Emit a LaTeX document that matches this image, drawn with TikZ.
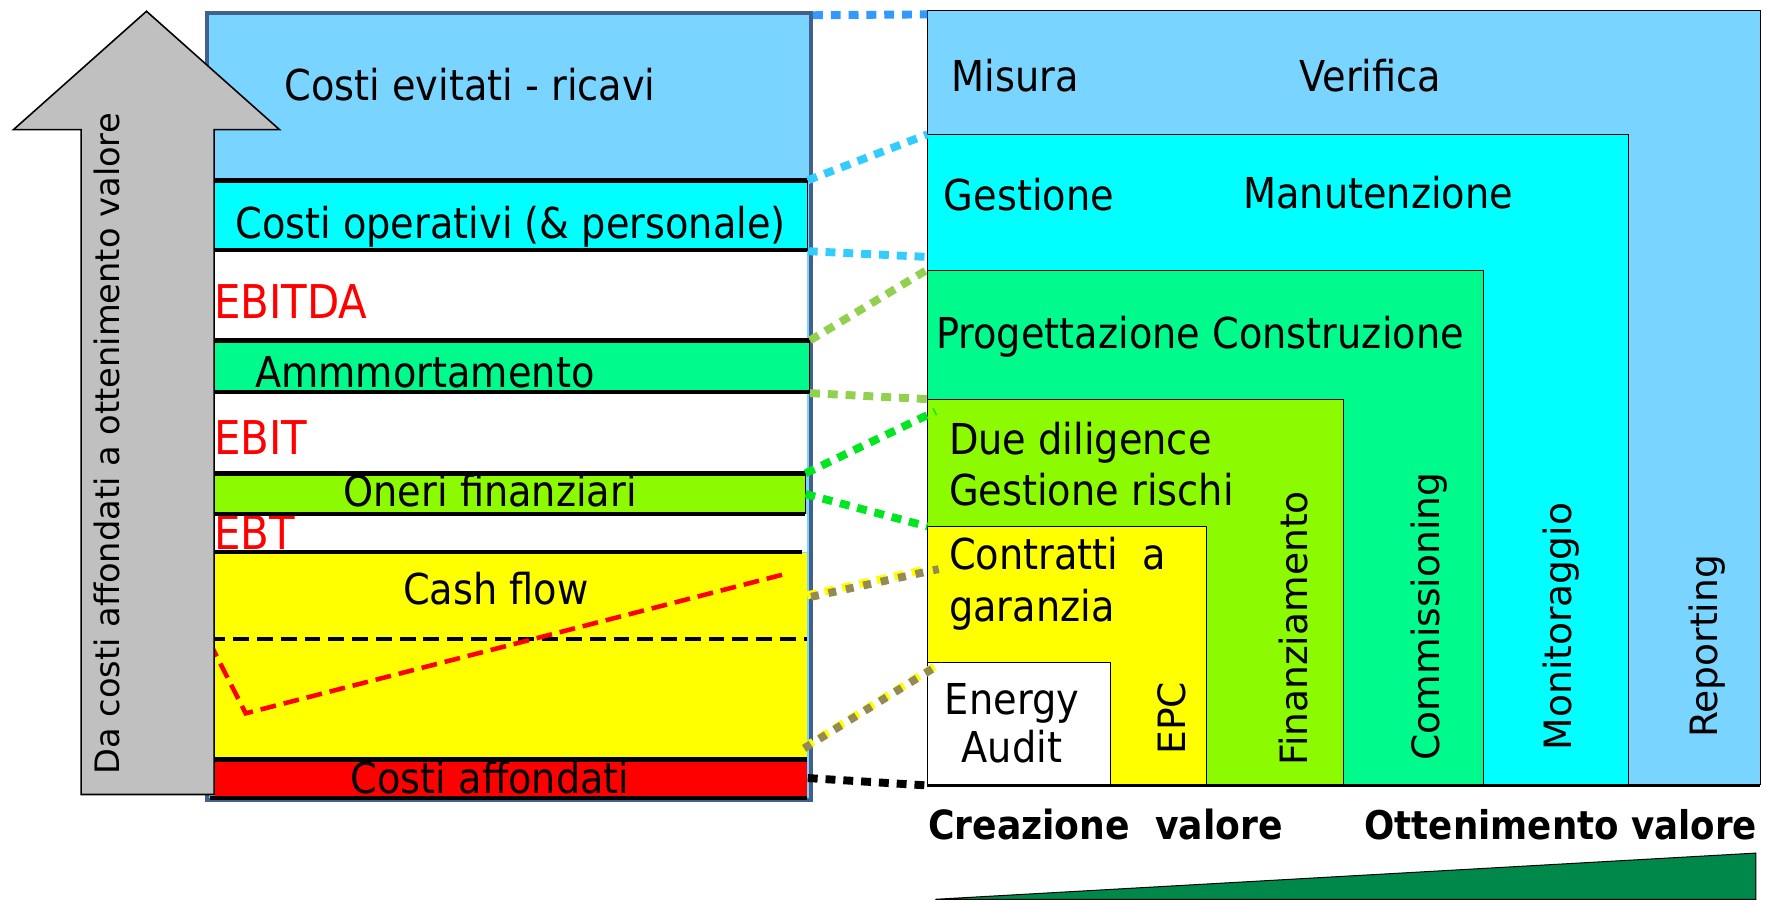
\documentclass[tikz,border=0pt]{standalone}
\usepackage{fontspec}
\setmainfont{DejaVu Sans Condensed}
\newfontfamily\widefont{DejaVu Sans}
\usepackage{tikz}
\usetikzlibrary{positioning}
\definecolor{ltblue}{HTML}{79D5FF}
\definecolor{aqua}{HTML}{00FFFF}
\definecolor{mint}{HTML}{00FA8C}
\definecolor{lime}{HTML}{8CFA00}
\definecolor{yel}{HTML}{FFFF00}
\definecolor{rosso}{HTML}{FF0000}
\definecolor{boxblue}{HTML}{41608C}
\definecolor{dblue}{HTML}{3399FF}
\definecolor{sky}{HTML}{33CCFF}
\definecolor{olivegreen}{HTML}{92D050}
\definecolor{brightgreen}{HTML}{00E620}
\definecolor{khaki}{HTML}{948A54}
\definecolor{dkgreen}{HTML}{00884A}
\definecolor{grigio}{HTML}{C0C0C0}
\tikzset{
 band/.style={draw=black, line width=0.5pt, inner sep=0pt, anchor=north west},
 box/.style={draw=black, line width=0.5pt, inner sep=0pt, anchor=south west},
 sep/.style={line width=2.3pt, black},
 conn/.style={line width=4pt, dash pattern=on 5pt off 4pt},
 lbl/.style={font=\fontsize{21.5}{24}\selectfont},
 red lbl/.style={font=\fontsize{23.5}{26}\selectfont, text=rosso, anchor=west, inner sep=0pt},
 vlbl/.style={font=\widefont\fontsize{19}{21}\selectfont, rotate=90, anchor=west, inner sep=0pt}
}
\begin{document}
\begin{tikzpicture}[x=0.02cm,y=-0.02cm]
\useasboundingbox (0,0) rectangle (1568,798);
% left block
\node[draw=boxblue, line width=2pt, fill=ltblue, inner sep=0pt, anchor=north west,
 minimum width=10.72cm, minimum height=13.96cm] (evit) at (182,10) {};
\node[lbl] (evtxt) at (417,75) {Costi evitati - ricavi};
\node[band, fill=aqua, minimum width=10.52cm, minimum height=1.24cm] (opband) at (190,160) {};
\node[lbl] at (453,201) {Costi operativi (\& personale)};
\fill[white] (190,222) rectangle (716,302);
\node[band, fill=mint, minimum width=10.56cm, minimum height=0.92cm] (amband) at (190,302) {};
\node[lbl] at (377,330) {Ammmortamento};
\fill[white] (190,348) rectangle (716,420);
\node[band, fill=lime, minimum width=10.48cm, minimum height=0.72cm] (onband) at (190,420) {};
\node[lbl] at (435,435) {Oneri finanziari};
\fill[white] (190,456) rectangle (716,490);
\node[band, draw=none, fill=yel, minimum width=10.52cm, minimum height=3.64cm] (cfband) at (190,490) {};
\node[lbl] at (440,522) {Cash flow};
\node[band, draw=none, fill=rosso, minimum width=10.52cm, minimum height=0.64cm] (caband) at (190,674) {};
\node[lbl] at (435,690) {Costi affondati};
\foreach \y/\t in {268/EBITDA, 388/EBIT, 473/EBT}
 \node[red lbl] at (190,\y) {\t};
% separators
\foreach \y/\a/\b in {160/190/716, 222/190/716, 302/190/718, 348/190/718, 420/190/714, 456/190/714, 490/180/712, 674/190/716, 708/186/716}
 \draw[sep] (\a,\y) -- (\b,\y);
\draw[line width=2.3pt, dash pattern=on 8pt off 4pt] (186,567) -- (716,567);
\draw[line width=2.3pt, rosso, dash pattern=on 8pt off 4pt] (186,570) -- (218,633) -- (698,509);
% arrow
\draw[fill=grigio, line width=0.8pt] (72,705) -- (72,115) -- (12,115) -- (130,10) -- (248,115) -- (190,115) -- (190,705) -- cycle;
\node[font=\widefont\fontsize{17}{19}\selectfont, rotate=90] (arrtxt) at (95,394) {Da costi affondati a ottenimento valore};
% right boxes
\node[box, fill=ltblue, minimum width=14.78cm, minimum height=13.74cm] (mv) at (823,697) {};
\node[box, fill=aqua, minimum width=12.44cm, minimum height=11.54cm] (gm) at (823,697) {};
\node[box, fill=mint, minimum width=9.86cm, minimum height=9.14cm] (pc) at (823,697) {};
\node[box, fill=lime, minimum width=7.38cm, minimum height=6.84cm] (dg) at (823,697) {};
\node[box, fill=yel, minimum width=4.94cm, minimum height=4.58cm] (ct) at (823,697) {};
\node[box, fill=white, minimum width=3.24cm, minimum height=2.18cm] (ea) at (823,697) {};
\node[lbl] at (901,67) {Misura};
\node[lbl] at (1216,67) {Verifica};
\node[lbl] at (913,173) {Gestione};
\node[lbl] at (1223,171) {Manutenzione};
\node[lbl] at (1065,299) {Progettazione Construzione};
\node[lbl, font=\fontsize{21.5}{26}\selectfont, anchor=west, align=left] at (836,412) {Due diligence\\Gestione rischi};
\node[lbl, font=\fontsize{21.5}{26}\selectfont, anchor=west, align=left] at (836,518) {Contratti \ a\\garanzia};
\node[lbl, align=center] at (898,642) {Energy\\Audit};
\foreach \x/\y/\t in {1040/670/EPC, 1148/680/Finanziamento, 1268/675/Commissioning, 1385/666/Monitoraggio, 1515/655/Reporting}
 \node[vlbl] at (\x,\y) {\t};
\draw[line width=1.5pt] (823,697) -- (1562,697);
\node[font=\bfseries\fontsize{20.3}{22}\selectfont] at (981,732) {Creazione \ valore};
\node[font=\bfseries\fontsize{20}{22}\selectfont] at (1385,732) {Ottenimento valore};
\draw[fill=dkgreen, line width=0.5pt] (830,798) -- (1558,757) -- (1558,798) -- cycle;
% connectors
\coordinate (gmA) at (823,228);
\coordinate (dgA) at (830,365);
\coordinate (cfA) at (718,530);
\coordinate (ctA) at (833,505);
\coordinate (cfB) at (712,665);
\coordinate (eaA) at (833,590);
\draw[conn, dblue] ([yshift=-2pt]evit.north east) -- ([yshift=-2pt]mv.north west);
\draw[conn, sky] (opband.north east) -- (gm.north west);
\draw[conn, sky] (opband.south east) -- (gmA);
\draw[conn, olivegreen] (amband.north east) -- (pc.north west);
\draw[conn, olivegreen] (amband.south east) -- (dg.north west);
\draw[conn, brightgreen] (onband.north east) -- (dgA);
\draw[conn, brightgreen] (onband.east) -- (ct.north west);
\draw[conn, yel] ([xshift=-1pt,yshift=1pt]cfA) -- ([xshift=-1pt,yshift=1pt]ctA);
\draw[conn, khaki, dash pattern=on 4pt off 5pt, dash phase=-1pt] (cfA) -- (ctA);
\draw[conn, yel] ([xshift=1.2pt,yshift=1.2pt]cfB) -- ([xshift=1.2pt,yshift=1.2pt]eaA);
\draw[conn, khaki, dash pattern=on 4pt off 5pt, dash phase=-1pt] (cfB) -- (eaA);
\draw[conn, black] (caband.east) -- (ea.south west);
\end{tikzpicture}
\end{document}
